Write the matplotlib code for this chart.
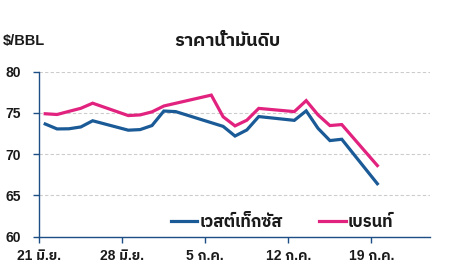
import matplotlib
matplotlib.use("Agg")
import matplotlib.pyplot as plt
from matplotlib import font_manager, ft2font
import pandas as pd

# ---------------- data ----------------
wti_dates = ["2021-06-21", "2021-06-22", "2021-06-23", "2021-06-24", "2021-06-25",
             "2021-06-28", "2021-06-29", "2021-06-30", "2021-07-01", "2021-07-02",
             "2021-07-06", "2021-07-07", "2021-07-08", "2021-07-09",
             "2021-07-12", "2021-07-13", "2021-07-14", "2021-07-15", "2021-07-16",
             "2021-07-19"]
wti_values = [73.66, 73.06, 73.08, 73.30, 74.05,
              72.91, 72.98, 73.47, 75.23, 75.16,
              73.37, 72.20, 72.94, 74.56,
              74.10, 75.25, 73.13, 71.65, 71.81,
              66.42]
brent_dates = ["2021-06-21", "2021-06-22", "2021-06-23", "2021-06-24", "2021-06-25",
               "2021-06-28", "2021-06-29", "2021-06-30", "2021-07-01", "2021-07-02",
               "2021-07-05", "2021-07-06", "2021-07-07", "2021-07-08", "2021-07-09",
               "2021-07-12", "2021-07-13", "2021-07-14", "2021-07-15", "2021-07-16",
               "2021-07-19"]
brent_values = [74.90, 74.81, 75.19, 75.56, 76.18,
                74.68, 74.76, 75.13, 75.84, 76.17,
                77.16, 74.53, 73.43, 74.12, 75.55,
                75.16, 76.49, 74.76, 73.47, 73.59,
                68.62]
series_names = ["เวสต์เท็กซัส", "เบรนท์"]
tick_dates = ["2021-06-21", "2021-06-28", "2021-07-05", "2021-07-12", "2021-07-19"]
tick_labels = ["21 มิ.ย.", "28 มิ.ย.", "5 ก.ค.", "12 ก.ค.", "19 ก.ค."]
y_ticks = [60, 65, 70, 75, 80]
title = "ราคาน้ำมันดิบ"
unit_label = "$/BBL"

# ---------------- font with Thai glyphs ----------------
thai_family = None
cands = []
for f in font_manager.fontManager.ttflist:
    try:
        cm = ft2font.FT2Font(f.fname).get_charmap()
    except Exception:
        continue
    if 0x0E23 in cm and 0x0E32 in cm and 0x0E1A in cm:
        cands.append(f)
if cands:
    cands.sort(key=lambda f: (0 if "Thai" in f.name else 1, 0 if f.weight in ("bold", 700) else 1))
    thai_family = cands[0].name
thai_fams = ([thai_family] if thai_family else []) + ["DejaVu Sans"]
latin_first = ["Liberation Sans"] + thai_fams
plt.rcParams["font.family"] = thai_fams
plt.rcParams["font.weight"] = "bold"

BLUE = "#1a5a96"
PINK = "#e2227f"
SPINE = "#1d4f86"
TEXT = "#1a1a1a"

fig = plt.figure(figsize=(4.49, 2.79), dpi=100)
ax = fig.add_axes([0.0875, 0.1516, 0.8705, 0.5915])

offset = pd.Timedelta(hours=12)
wx = pd.to_datetime(wti_dates) + offset
bx = pd.to_datetime(brent_dates) + offset

ax.plot(wx, wti_values, color=BLUE, lw=2.3, label=series_names[0], solid_joinstyle="miter")
ax.plot(bx, brent_values, color=PINK, lw=2.3, label=series_names[1], solid_joinstyle="miter")

ax.set_ylim(60, 80)
ax.set_yticks(y_ticks)
ax.set_xlim(pd.Timestamp("2021-06-21"), pd.Timestamp("2021-06-21") + pd.Timedelta(days=32.95))
ax.set_xticks(pd.to_datetime(tick_dates))
ax.set_xticklabels(tick_labels)

for s in ["top", "right"]:
    ax.spines[s].set_visible(False)
for s in ["left", "bottom"]:
    ax.spines[s].set_color(SPINE)
    ax.spines[s].set_linewidth(1.0)

ax.tick_params(axis="both", direction="out", length=4, width=1, color=SPINE,
               labelsize=10, labelcolor=TEXT)
ax.tick_params(axis="y", pad=9)
ax.tick_params(axis="x", pad=5)
for lab in ax.get_xticklabels() + ax.get_yticklabels():
    lab.set_fontweight("bold")
    lab.set_family(latin_first)

ax.yaxis.grid(True, color="#cccccc", lw=0.8, ls=(0, (3, 2)))
ax.set_axisbelow(True)

fig.text(0.006, 0.853, unit_label, fontsize=10.5, fontweight="bold", color=TEXT,
         ha="left", va="center", family=latin_first)
fig.text(0.507, 0.853, title, fontsize=13, fontweight="bold", color=TEXT,
         ha="center", va="center", family=thai_fams)

leg = ax.legend(loc="center", bbox_to_anchor=(0.628, 0.205), bbox_transform=fig.transFigure,
                ncol=2, frameon=False, handlelength=1.6, handletextpad=0.12,
                columnspacing=2.2, prop={"size": 12, "weight": "bold", "family": thai_fams})
for t in leg.get_texts():
    t.set_color(TEXT)

fig.savefig("out.png", dpi=100)
